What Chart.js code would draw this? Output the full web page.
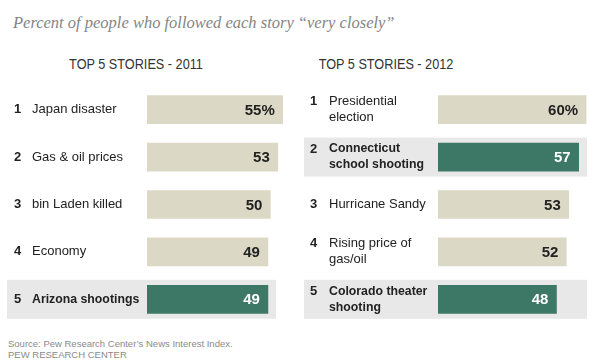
<!DOCTYPE html>
<html>
<head>
<meta charset="utf-8">
<script src="https://cdn.jsdelivr.net/npm/chart.js@4/dist/chart.umd.min.js"></script>
<style>
  body { margin: 0; background: #fff; }
  #wrap { position: relative; width: 600px; height: 364px; overflow: hidden; font-family: "Liberation Sans", Arial, sans-serif; }
  .title { position: absolute; left: 13px; top: 13px; font: italic 16.5px "Liberation Serif", Georgia, serif; color: #858585; white-space: nowrap; }
  .head { position: absolute; top: 56px; width: 300px; text-align: center; font: 14.5px "Liberation Sans", Arial, sans-serif; color: #333; transform: scaleX(0.875); }
  .src { position: absolute; left: 8px; top: 338px; font: 9.5px "Liberation Sans", Arial, sans-serif; color: #8a8a8a; line-height: 11px; }
  canvas { position: absolute; }
</style>
</head>
<body>
<div id="wrap">
  <div class="title">Percent of people who followed each story “very closely”</div>
  <div class="head" style="left:-14px">TOP 5 STORIES - 2011</div>
  <div class="head" style="left:236px">TOP 5 STORIES - 2012</div>
  <canvas id="c2011" width="300" height="250" style="left:0;top:80px"></canvas>
  <canvas id="c2012" width="300" height="250" style="left:300px;top:80px"></canvas>
  <div class="src">Source: Pew Research Center’s News Interest Index.<br>PEW RESEARCH CENTER</div>
</div>
<script>
// datos de las dos graficas
const ranks = ['1', '2', '3', '4', '5'];

const stories2011 = [['Japan disaster'], ['Gas & oil prices'], ['bin Laden killed'], ['Economy'], ['Arizona shootings']];
const values2011 = [55, 53, 50, 49, 49];
const highlight2011 = [false, false, false, false, true];

const stories2012 = [['Presidential', 'election'], ['Connecticut', 'school shooting'], ['Hurricane Sandy'], ['Rising price of', 'gas/oil'], ['Colorado theater', 'shooting']];
const values2012 = [60, 57, 53, 52, 48];
const highlight2012 = [false, true, false, false, true];

const xMax = 62;

function dibujarTop5(id, stories, values, highlight, look) {
  var ctx = document.getElementById(id).getContext('2d');

  // fondo gris de las filas destacadas
  var bandas = {
    id: 'bandas',
    beforeDatasetsDraw(chart) {
      var c = chart.ctx, y = chart.scales.y;
      c.save();
      c.fillStyle = '#e8e8e8';
      highlight.forEach(function (h, i) {
        if (!h) return;
        var py = y.getPixelForValue(i);
        c.fillRect(look.bandLeft, py - 19.5, look.bandRight - look.bandLeft, 39);
      });
      c.restore();
    }
  };

  // numero, titular y valor de cada fila
  var textos = {
    id: 'textos',
    afterDatasetsDraw(chart) {
      var c = chart.ctx, y = chart.scales.y;
      var bars = chart.getDatasetMeta(0).data;
      c.save();
      c.textBaseline = 'middle';
      stories.forEach(function (lines, i) {
        var py = y.getPixelForValue(i);
        c.fillStyle = '#222';
        c.textAlign = 'left';
        c.font = 'bold 13px "Liberation Sans", Arial, sans-serif';
        c.fillText(ranks[i], look.rankX, py - (lines.length - 1) * 8);
        c.font = highlight[i] ? 'bold 12.3px "Liberation Sans", Arial, sans-serif' : '13px "Liberation Sans", Arial, sans-serif';
        lines.forEach(function (t, k) {
          c.fillText(t, look.labelX, py - (lines.length - 1) * 8 + k * 16);
        });
        c.textAlign = 'right';
        c.font = 'bold 15px "Liberation Sans", Arial, sans-serif';
        c.fillStyle = highlight[i] ? '#fff' : '#222';
        c.fillText(values[i] + (i === 0 ? '%' : ''), bars[i].x - 8, bars[i].y + 1);
      });
      c.restore();
    }
  };

  return new Chart(ctx, {
    type: 'bar',
    data: {
      labels: ranks,
      datasets: [{
        data: values,
        backgroundColor: highlight.map(function (h) { return h ? '#3d7866' : '#dcd8c6'; }),
        borderWidth: 0,
        barThickness: 28
      }]
    },
    options: {
      indexAxis: 'y',
      responsive: false,
      animation: false,
      layout: { padding: { left: look.padLeft, right: look.padRight, top: 6, bottom: 7 } },
      scales: {
        x: { display: false, min: 0, max: xMax },
        y: { display: false }
      },
      plugins: { legend: { display: false }, tooltip: { enabled: false } }
    },
    plugins: [bandas, textos]
  });
}

dibujarTop5('c2011', stories2011, values2011, highlight2011,
  { padLeft: 147, padRight: 0, bandLeft: 7, bandRight: 276, rankX: 14, labelX: 32 });
dibujarTop5('c2012', stories2012, values2012, highlight2012,
  { padLeft: 138, padRight: 9, bandLeft: 4, bandRight: 287, rankX: 10, labelX: 29 });
</script>
</body>
</html>
